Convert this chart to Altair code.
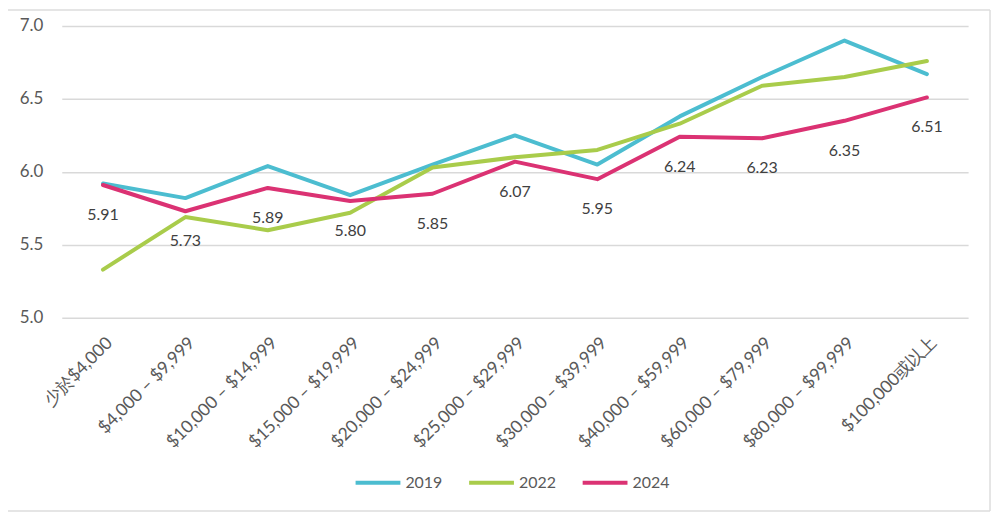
import altair as alt
import pandas as pd

categories = ["少於$4,000", "$4,000 – $9,999", "$10,000 – $14,999", "$15,000 – $19,999",
              "$20,000 – $24,999", "$25,000 – $29,999", "$30,000 – $39,999",
              "$40,000 – $59,999", "$60,000 – $79,999", "$80,000 – $99,999", "$100,000或以上"]
v2019 = [5.92, 5.82, 6.04, 5.84, 6.05, 6.25, 6.05, 6.38, 6.65, 6.90, 6.67]
v2022 = [5.33, 5.69, 5.60, 5.72, 6.03, 6.10, 6.15, 6.33, 6.59, 6.65, 6.76]
v2024 = [5.91, 5.73, 5.89, 5.80, 5.85, 6.07, 5.95, 6.24, 6.23, 6.35, 6.51]
years = ["2019", "2022", "2024"]
colors = ["#4CBDD0", "#A9CC4B", "#DB3273"]

rows = []
for yr, vals in zip(years, [v2019, v2022, v2024]):
    for c, v in zip(categories, vals):
        rows.append({"cat": c, "year": yr, "value": v})
df = pd.DataFrame(rows)
df24 = df[df["year"] == "2024"].copy()
df24["label"] = df24["value"].map(lambda v: f"{v:.2f}")

FONT = "Lato"

x = alt.X("cat:N", sort=categories, title=None,
          scale=alt.Scale(type="point", padding=0.5),
          axis=alt.Axis(labelAngle=-45, labelFontSize=17.5, labelColor="#595959",
                        labelPadding=16, ticks=False, domain=False, grid=False,
                        labelFont=FONT, labelLimit=300))
y = alt.Y("value:Q", title=None,
          scale=alt.Scale(domain=[5, 7], nice=False, zero=False),
          axis=alt.Axis(values=[5, 5.5, 6, 6.5, 7], format=".1f", labelFontSize=17,
                        labelColor="#595959", labelPadding=19, ticks=False, domain=False,
                        gridColor="#D9D9D9", gridWidth=1.5, labelFont=FONT))

lines = alt.Chart(df).mark_line(strokeWidth=4, strokeCap="round", strokeJoin="round").encode(
    x=x, y=y,
    color=alt.Color("year:N", scale=alt.Scale(domain=years, range=colors),
                    legend=alt.Legend(orient="none", legendX=293, legendY=434, direction="horizontal",
                                      title=None, symbolType="stroke", symbolStrokeWidth=4,
                                      symbolSize=2025, labelFontSize=16, labelColor="#595959",
                                      labelFont=FONT, labelOffset=3, columnPadding=18, padding=0))
)

labels = alt.Chart(df24).mark_text(dy=30, fontSize=16, color="#404040", font=FONT).encode(
    x=alt.X("cat:N", sort=categories), y="value:Q", text="label:N"
)

one = pd.DataFrame({"a": [0]})
def rule(**enc):
    return alt.Chart(one).mark_rule(stroke="#DDDDDD", strokeWidth=1.5).encode(
        **{k: alt.value(v) for k, v in enc.items()})

frame = [
    rule(x=-57, x2=932, y=-16),
    rule(x=-57, x2=932, y=487),
    rule(x=-57, y=-16, y2=487),
    rule(x=932, y=-16, y2=487),
]

chart = alt.layer(*frame, lines, labels).properties(
    width=910, height=293,
    background="white",
    autosize=alt.AutoSizeParams(type="none"),
    padding={"left": 54, "top": 17, "right": 24, "bottom": 195},
).configure_view(strokeWidth=0)

chart.save("out.html", embed_options={"renderer": "svg", "actions": False})
